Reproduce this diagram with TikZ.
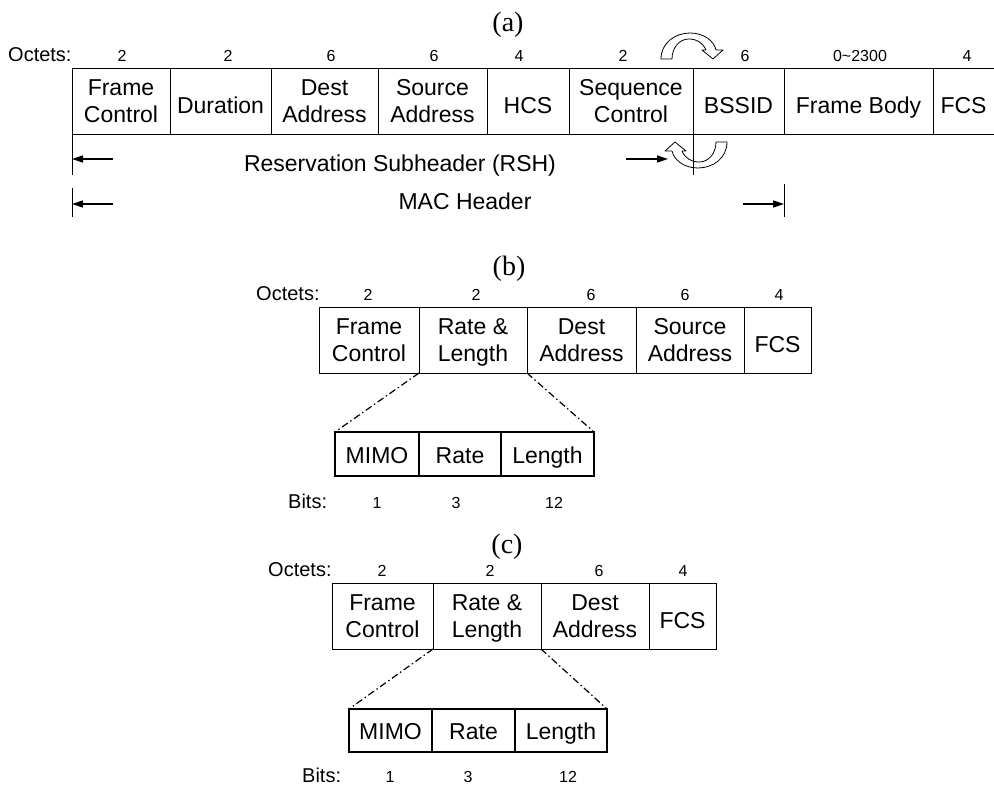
\documentclass[tikz,border=0pt]{standalone}
\usepackage{fontspec}
\setmainfont{Liberation Sans}
\newfontfamily\capfont{Liberation Serif}
\usetikzlibrary{positioning}
\usetikzlibrary{arrows.meta}

\begin{document}
\begin{tikzpicture}[x=1pt, y=-1pt,
					cell/.style={draw, line width=0.9pt, minimum width=#1, minimum height=66pt, inner sep=0pt, outer sep=0pt, align=center, text depth=0pt, font=\fontsize{23}{27}\selectfont},
					one/.style={text height=25pt},
					subcell/.style={cell=#1, minimum height=44pt, line width=1.3pt, text height=18pt},
					num/.style={anchor=base, inner sep=0pt, font=\fontsize{16}{19}\selectfont},
					lbl/.style={anchor=base west, inner sep=0pt, font=\fontsize{20}{24}\selectfont},
					span/.style={anchor=base, inner sep=0pt, font=\fontsize{23}{27}\selectfont},
					figlbl/.style={anchor=base, inner sep=0pt, font=\capfont\fontsize{28}{32}\selectfont},
					arr/.style={-{Triangle[length=11pt, width=7pt]}, line width=1.5pt},
					dd/.style={dash pattern=on 7pt off 3pt on 1.5pt off 3pt, line width=1.2pt},
					curv/.style={draw, fill=white, line width=0.8pt, line join=round}
					]
					\useasboundingbox (0,0) rectangle (994,787);
					
					%(a) full frame
					\node[figlbl] (capa) at (508,31) {(a)};
					\node[lbl] (octa) at (8,61) {Octets:};
					\foreach \x/\t [count=\i] in {122/2, 228/2, 331/6, 434/6, 519/4, 623/2, 745/6, 860/0\textasciitilde 2300, 967/4}
						\node[num] (oa\i) at (\x,61) {\t};
					
					\node[cell=98pt, anchor=north west] (fca) at (72,68) {Frame\\Control};
					\node[cell=101pt, one, right=0pt of fca] (dura) {Duration};
					\node[cell=107pt, right=0pt of dura] (dsta) {Dest\\Address};
					\node[cell=109pt, right=0pt of dsta] (srca) {Source\\Address};
					\node[cell=82pt, one, right=0pt of srca] (hcsa) {HCS};
					\node[cell=124pt, right=0pt of hcsa] (seqa) {Sequence\\Control};
					\node[cell=91pt, one, right=0pt of seqa] (bssa) {BSSID};
					\node[cell=149pt, one, right=0pt of bssa] (fba) {Frame Body};
					\node[cell=61pt, one, draw=none, right=0pt of fba] (fcsa) {FCS};
					\draw[line width=0.9pt] (fcsa.north west) -- (fcsa.north east) (fcsa.south west) -- (fcsa.south east);
					
					%Curved arrows
					\path[curv] (661,59) .. controls (661,43) and (675,33) .. (690,33) .. controls (704,33) and (714,41) .. (716,50) -- (723,50) -- (713,59) -- (702,50) -- (706,50) .. controls (703,43) and (697,39) .. (689,39) .. controls (679,39) and (672,48) .. (672,59) -- cycle;
					\begin{scope}[rotate around={180:(694,100.5)}]
						\path[curv] (661,59) .. controls (661,43) and (675,33) .. (690,33) .. controls (704,33) and (714,41) .. (716,50) -- (723,50) -- (713,59) -- (702,50) -- (706,50) .. controls (703,43) and (697,39) .. (689,39) .. controls (679,39) and (672,48) .. (672,59) -- cycle;
					\end{scope}
					
					%Spans
					\coordinate (rshL) at (72,159);
					\coordinate (rshR) at (668,159);
					\coordinate (macL) at (72,204);
					\coordinate (macR) at (784,204);
					\draw[line width=0.9pt] (fca.south west) -- (72,175);
					\draw[line width=0.9pt] (seqa.south east) -- (693,175);
					\draw[line width=0.9pt] (72,188) -- (72,217);
					\draw[line width=0.9pt] (784,184) -- (784,217);
					\node[span] (rsh) at (400,171) {Reservation Subheader (RSH)};
					\node[span] (mac) at (465,209) {MAC Header};
					\draw[arr] ([xshift=41pt]rshL) -- (rshL);
					\draw[arr] ([xshift=-42pt]rshR) -- (rshR);
					\draw[arr] ([xshift=41pt]macL) -- (macL);
					\draw[arr] ([xshift=-41pt]macR) -- (macR);
					
					%(b) short frame
					\node[figlbl] (capb) at (509,275) {(b)};
					\node[lbl] (octb) at (256,300) {Octets:};
					\foreach \x/\t [count=\i] in {368/2, 476/2, 591/6, 685/6, 779/4}
						\node[num] (ob\i) at (\x,300) {\t};
					\node[cell=100pt, anchor=north west] (fcb) at (319,307) {Frame\\Control};
					\node[cell=108pt, right=0pt of fcb] (rlb) {Rate \&\\Length};
					\node[cell=109pt, right=0pt of rlb] (dstb) {Dest\\Address};
					\node[cell=108pt, right=0pt of dstb] (srcb) {Source\\Address};
					\node[cell=67pt, one, right=0pt of srcb] (fcsb) {FCS};
					
					\node[subcell=84pt, anchor=north west] (mimob) at (335,432) {MIMO};
					\node[subcell=82pt, right=0pt of mimob] (rateb) {Rate};
					\node[subcell=93pt, right=0pt of rateb] (lenb) {Length};
					\draw[dd] (rlb.south west) -- (mimob.north west);
					\draw[dd] (rlb.south east) -- (lenb.north east);
					
					\node[lbl] (bitsb) at (288,508) {Bits:};
					\foreach \x/\t [count=\i] in {377/1, 456/3, 554/12}
						\node[num] (bb\i) at (\x,508) {\t};
					
					%(c) shortest frame
					\node[figlbl] (capc) at (507,553) {(c)};
					\node[lbl] (octc) at (268,576) {Octets:};
					\foreach \x/\t [count=\i] in {382/2, 490/2, 599/6, 683/4}
						\node[num] (oc\i) at (\x,576) {\t};
					\node[cell=101pt, anchor=north west] (fcc) at (332,583) {Frame\\Control};
					\node[cell=108pt, right=0pt of fcc] (rlc) {Rate \&\\Length};
					\node[cell=108pt, right=0pt of rlc] (dstc) {Dest\\Address};
					\node[cell=67pt, one, right=0pt of dstc] (fcsc) {FCS};
					
					\node[subcell=83pt, minimum height=43pt, anchor=north west] (mimoc) at (349,709) {MIMO};
					\node[subcell=83pt, minimum height=43pt, right=0pt of mimoc] (ratec) {Rate};
					\node[subcell=92pt, minimum height=43pt, right=0pt of ratec] (lenc) {Length};
					\draw[dd] (rlc.south west) -- (mimoc.north west);
					\draw[dd] (rlc.south east) -- (lenc.north east);
					
					\node[lbl] (bitsc) at (302,782) {Bits:};
					\foreach \x/\t [count=\i] in {390/1, 468/3, 568/12}
						\node[num] (bc\i) at (\x,782) {\t};
				\end{tikzpicture}
\end{document}
